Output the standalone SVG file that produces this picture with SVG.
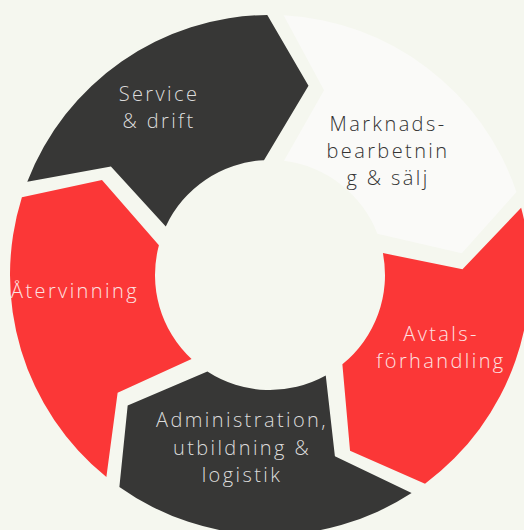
<svg xmlns="http://www.w3.org/2000/svg" xmlns:xlink="http://www.w3.org/1999/xlink" width="524" height="530" viewBox="0 0 524 530">
  <style>
    .bg { fill: #f5f7ef; }
    .dark { fill: #373736; }
    .light { fill: #fafaf8; }
    .red { fill: #fb3737; }
    text { font-family: "Open Sans", "Noto Sans", "DejaVu Sans", sans-serif; font-weight: 300; font-size: 20px; letter-spacing: 2.4px; text-anchor: middle; }
    .t-dark { fill: #dcdcdc; }
    .t-light { fill: #333333; }
    .t-red { fill: #fde2e2; }
  </style>
  <defs>
    <path id="seg" d="M 27.27 181.82 A 260 260 0 0 1 267.28 15.01 L 308.49 85.84 L 263.98 160.16 A 115 115 0 0 0 165.77 226.40 L 110.92 166.47 Z"/>
  </defs>
  <rect class="bg" x="0" y="0" width="524" height="530"/>
  <g id="node-service">
    <use xlink:href="#seg" href="#seg" class="dark"/>
    <text class="t-dark" x="159" y="101">Service</text>
    <text class="t-dark" x="159" y="128">&amp; drift</text>
  </g>
  <g id="node-marknad">
    <use xlink:href="#seg" href="#seg" class="light" transform="rotate(72 270 275)"/>
    <text class="t-light" x="388" y="131">Marknads-</text>
    <text class="t-light" x="388" y="158">bearbetnin</text>
    <text class="t-light" x="388" y="185">g &amp; sälj</text>
  </g>
  <g id="node-avtal">
    <use xlink:href="#seg" href="#seg" class="red" transform="rotate(144 270 275)"/>
    <text class="t-red" x="441" y="341">Avtals-</text>
    <text class="t-red" x="441" y="368">förhandling</text>
  </g>
  <g id="node-admin">
    <use xlink:href="#seg" href="#seg" class="dark" transform="rotate(216 270 275)"/>
    <text class="t-dark" x="242" y="427">Administration,</text>
    <text class="t-dark" x="242" y="454.5">utbildning &amp;</text>
    <text class="t-dark" x="242" y="482">logistik</text>
  </g>
  <g id="node-atervinning">
    <use xlink:href="#seg" href="#seg" class="red" transform="rotate(288 270 275)"/>
    <text class="t-red" x="75" y="298">Återvinning</text>
  </g>
  <g id="connectors"/>
</svg>
